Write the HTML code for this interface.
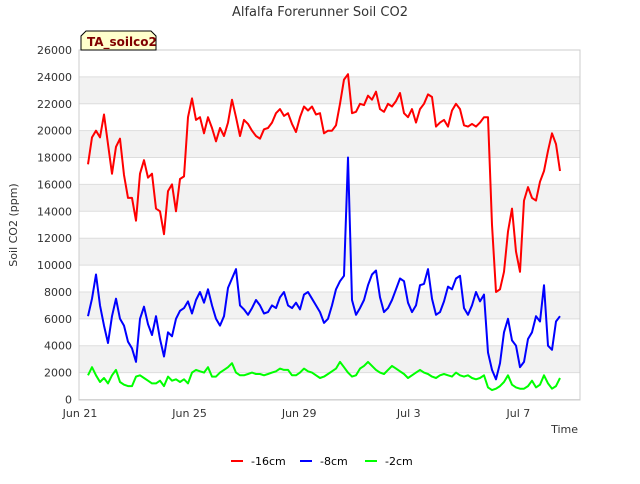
<!DOCTYPE html>
<html><head><meta charset="utf-8"><style>
body{margin:0;background:#fff;font-family:"DejaVu Sans","Liberation Sans",sans-serif}
svg text{font-family:"DejaVu Sans","Liberation Sans",sans-serif}
</style></head><body>
<svg id="chart" width="640" height="480">
<text x="320" y="16" text-anchor="middle" font-size="13" fill="#333">Alfalfa Forerunner Soil CO2</text>
<g id="grid"></g>
<g id="series"></g>
<rect x="79" y="50" width="501" height="350" fill="none" stroke="#ccc"/>
<g id="axes"></g>
<text x="17" y="225" text-anchor="middle" font-size="11" fill="#333" transform="rotate(-90 17 225)">Soil CO2 (ppm)</text>
<text x="578" y="433" text-anchor="end" font-size="11" fill="#333">Time</text>
<g>
<path d="M81,50 L81,36 L86,31 L151,31 L156,36 L156,50 Z" fill="#ffffcc" stroke="#000"/>
<text x="87" y="46" font-size="12" font-weight="bold" fill="#800000">TA_soilco2</text>
</g>
<g id="legend"></g>
</svg>
<script>
const dateLabels=["Jun 21","Jun 25","Jun 29","Jul 3","Jul 7"];
const dateDays=[0,4,8,12,16];
const yTicks=[0,2000,4000,6000,8000,10000,12000,14000,16000,18000,20000,22000,24000,26000];
const seriesNames=["-16cm","-8cm","-2cm"];
const seriesColors=["#ff0000","#0000ff","#00ff00"];
const startDay=0.292, stepDay=0.146;
const red=[17500,19500,20000,19500,21200,19000,16800,18800,19400,16700,15000,15000,13300,16800,17800,16500,16800,14200,14000,12300,15500,16000,14000,16400,16600,21000,22400,20800,21000,19800,21000,20200,19200,20200,19600,20600,22300,21000,19600,20800,20500,20000,19600,19400,20100,20200,20600,21300,21600,21100,21300,20500,19900,21000,21800,21500,21800,21200,21300,19800,20000,20000,20400,22000,23800,24200,21300,21400,22000,21900,22600,22300,22900,21600,21400,22000,21800,22200,22800,21300,21000,21600,20600,21600,22000,22700,22500,20300,20600,20800,20300,21500,22000,21600,20400,20300,20500,20300,20600,21000,21000,13000,8000,8200,9500,12500,14200,11000,9500,14800,15800,15000,14800,16200,17000,18500,19800,19000,17000];
const blue=[6200,7500,9300,7000,5500,4200,6200,7500,6000,5500,4300,3800,2800,6000,6900,5600,4800,6200,4500,3200,5000,4700,6000,6600,6800,7300,6400,7400,8000,7200,8200,7000,6000,5500,6200,8300,9000,9700,7000,6700,6300,6800,7400,7000,6400,6500,7000,6800,7600,8000,7000,6800,7200,6700,7800,8000,7500,7000,6500,5700,6000,7000,8200,8800,9200,18000,7400,6300,6800,7400,8500,9300,9600,7600,6500,6800,7400,8200,9000,8800,7200,6500,7000,8500,8600,9700,7500,6300,6500,7300,8400,8200,9000,9200,6800,6300,7000,8000,7300,7800,3500,2200,1500,2700,5000,6000,4400,4000,2400,2800,4500,5000,6200,5800,8500,4000,3700,5800,6200];
const green=[1800,2400,1800,1300,1600,1200,1800,2200,1300,1100,1000,1000,1700,1800,1600,1400,1200,1200,1400,1000,1700,1400,1500,1300,1500,1200,2000,2200,2100,2000,2400,1700,1700,2000,2200,2400,2700,2000,1800,1800,1900,2000,1900,1900,1800,1900,2000,2100,2300,2200,2200,1800,1800,2000,2300,2100,2000,1800,1600,1700,1900,2100,2300,2800,2400,2000,1700,1800,2300,2500,2800,2500,2200,2000,1900,2200,2500,2300,2100,1900,1600,1800,2000,2200,2000,1900,1700,1600,1800,1900,1800,1700,2000,1800,1700,1800,1600,1500,1600,1800,900,700,800,1000,1300,1800,1100,900,800,800,1000,1400,900,1100,1800,1200,800,1000,1600];
const NS="http://www.w3.org/2000/svg";
const X0=80,PXD=27.4,Y0=399.5,YMAX=26000,YH=349.5;
function xs(d){return X0+d*PXD;}
function ys(v){return Y0-v/YMAX*YH;}
function mk(tag,attrs,parent){const e=document.createElementNS(NS,tag);for(const k in attrs)e.setAttribute(k,attrs[k]);parent.appendChild(e);return e;}
const grid=document.getElementById('grid'),axes=document.getElementById('axes'),ser=document.getElementById('series'),leg=document.getElementById('legend');
for(let i=0;i<yTicks.length-1;i++){
  if(i%2===1){const r=mk('rect',{x:79,y:ys(yTicks[i+1]),width:501,height:ys(yTicks[i])-ys(yTicks[i+1]),fill:'#f2f2f2'},grid);
  
  }
}
yTicks.forEach(v=>{
  const l=mk('line',{x1:79,x2:580,y1:ys(v),y2:ys(v),stroke:'#ddd'},grid);
  
  
  const t=mk('text',{x:72,y:ys(v)+4,'text-anchor':'end','font-size':11,fill:'#333'},axes);
  t.textContent=v;
  
  
});
dateLabels.forEach((s,i)=>{
  const t=mk('text',{x:xs(dateDays[i]),y:417,'text-anchor':'middle','font-size':11,fill:'#333'},axes);
  t.textContent=s;
  
  
});
[red,blue,green].forEach((arr,si)=>{
  const pts=arr.map((v,i)=>xs(startDay+i*stepDay).toFixed(1)+','+ys(v).toFixed(1)).join(' ');
  const p=mk('polyline',{points:pts,fill:'none',stroke:seriesColors[si],'stroke-width':2,'stroke-linejoin':'round'},ser);
  
  
});
const legX=[231,300,365];
seriesNames.forEach((n,i)=>{
  const g=mk('g',{},leg);
  
  
  mk('line',{x1:legX[i],x2:legX[i]+12,y1:461,y2:461,stroke:seriesColors[i],'stroke-width':2},g);
  const t=mk('text',{x:legX[i]+20,y:465,'font-size':11,fill:'#000'},g);
  t.textContent=n;
});
</script>
</body></html>
